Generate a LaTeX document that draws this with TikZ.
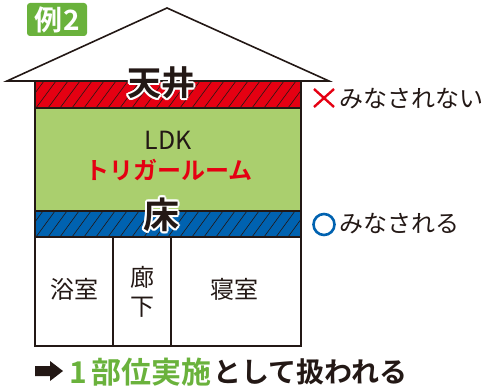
\documentclass[tikz,border=0pt]{standalone}
\usepackage{fontspec}
\newfontfamily\jp[BoldFont={Noto Sans CJK JP Bold}]{Noto Sans CJK JP}
\definecolor{ink}{HTML}{231815}
\definecolor{lgreen}{HTML}{AACF6E}
\definecolor{dgreen}{HTML}{6AB23C}
\definecolor{jred}{HTML}{E50012}
\definecolor{jblue}{HTML}{0062B0}
\tikzset{
  wall/.style={draw=ink, line width=2pt},
  roofline/.style={draw=ink, line width=1.6pt, line join=miter},
  hatchline/.style={draw=ink, line width=0.6pt},
  jt/.style={font=\jp\fontsize{#1}{#1}\selectfont, text=ink, inner sep=0pt},
  jb/.style={font=\jp\bfseries\fontsize{#1}{#1}\selectfont, text=ink, inner sep=0pt},
}
\begin{document}
\begin{tikzpicture}[x=1pt,y=-1pt]
\useasboundingbox (0,0) rectangle (486,387);
% label
\node[fill=dgreen, rounded corners=3pt, minimum width=60pt, minimum height=33pt, inner sep=0pt] (tag) at (57,19.5) {};
\node[jb=28, text=white] (tagtext) at (57.5,20) {例\kern1pt 2};
% roof
\draw[roofline, fill=white] (7,81) -- (167,8) -- (329,81) -- cycle;
% bands
\fill[jred] (35,81) rectangle (301,108);
\fill[lgreen] (35,108) rectangle (301,211);
\fill[jblue] (35,211) rectangle (301,237);
\fill[white] (35,237) rectangle (301,346);
\begin{scope}
\clip (35,81) rectangle (301,108);
\foreach \x in {0,12,...,300} \draw[hatchline] (\x,108) -- (\x+20,81);
\end{scope}
\begin{scope}
\clip (35,211) rectangle (301,237);
\foreach \x in {0,12,...,300} \draw[hatchline] (\x,237) -- (\x+19,211);
\end{scope}
% walls
\draw[wall] (35,81) rectangle (301,346);
\draw[wall] (35,108) -- (301,108);
\draw[wall] (35,211) -- (301,211);
\draw[wall] (35,237) -- (301,237);
\draw[wall] (113,237) -- (113,346);
\draw[wall] (171,237) -- (171,346);
\draw[roofline] (7,81) -- (329,81);
% outlined labels (white halo)
\foreach \a in {0,30,...,330} {
  \node[jb=34, text=white] at ([shift={(\a:2)}]161,83) {天井};
  \node[jb=36, text=white] at ([shift={(\a:2)}]161,215) {床};
}
\node[jb=34] (ceiling) at (161,83) {天井};
\node[jb=36] (floor) at (161,215) {床};
\node[jt=25] (ldk) at (168,140.5) {LDK};
\node[jb=24, text=jred] (trig) at (169,170) {トリガールーム};
% rooms
\node[jt=24] (bath) at (74,289) {浴室};
\node[jt=24, align=center] (hall) at (142,292) {廊\\[5pt]下};
\node[jt=24] (bed) at (234,289) {寝室};
% side notes
\draw[jred, line width=2.4pt] (314,89) -- (334,107) (334,89) -- (314,107);
\node[jt=24, anchor=west] (notdeemed) at (339,99) {みなされない};
\draw[jblue, line width=2.6pt] (324,224.5) circle (10.5);
\node[jt=24, anchor=west] (deemed) at (339,224) {みなされる};
% bottom
\fill[ink] (35,366) -- (50,366) -- (50,361) -- (63,371) -- (50,381) -- (50,376) -- (35,376) -- cycle;
\node[jb=30, anchor=west, text=dgreen] (one) at (69,372) {1\hspace{5pt}部位実施};
\node[jb=28, anchor=west] (rest) at ([xshift=1pt]one.east) {として扱われる};
\end{tikzpicture}
\end{document}
